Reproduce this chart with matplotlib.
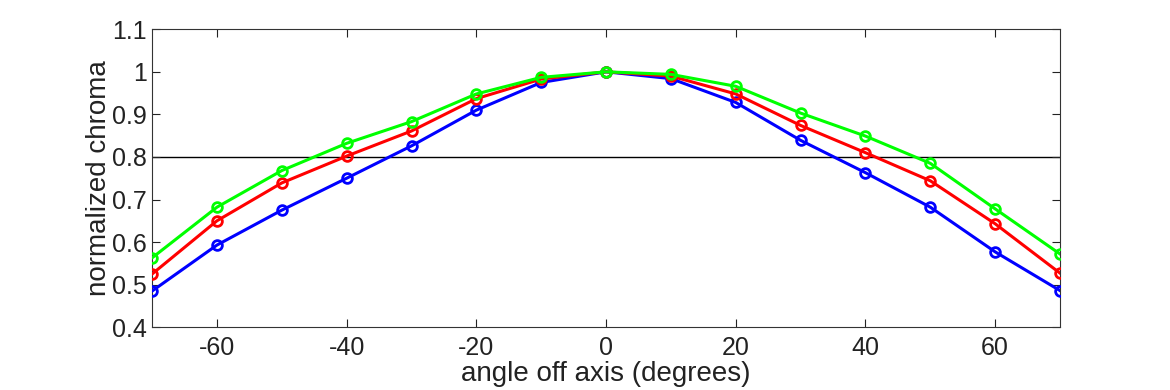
import numpy as np
import matplotlib.pyplot as plt

angles = [-70, -60, -50, -40, -30, -20, -10, 0, 10, 20, 30, 40, 50, 60, 70]
green = [0.563, 0.682, 0.768, 0.832, 0.883, 0.948, 0.987, 1.0, 0.994, 0.966, 0.903, 0.849, 0.785, 0.678, 0.572]
red = [0.525, 0.650, 0.739, 0.802, 0.861, 0.937, 0.983, 1.0, 0.990, 0.948, 0.874, 0.810, 0.744, 0.643, 0.527]
blue = [0.485, 0.593, 0.675, 0.750, 0.826, 0.910, 0.975, 1.0, 0.984, 0.928, 0.839, 0.763, 0.682, 0.577, 0.486]
threshold = 0.8

xticks = [-60, -40, -20, 0, 20, 40, 60]
yticks = [0.4, 0.5, 0.6, 0.7, 0.8, 0.9, 1.0, 1.1]
ytick_labels = ['0.4', '0.5', '0.6', '0.7', '0.8', '0.9', '1', '1.1']

plt.rcParams['font.family'] = ['Liberation Sans', 'DejaVu Sans']
plt.rcParams['axes.unicode_minus'] = False

fig = plt.figure(figsize=(11.7, 3.9), dpi=100)
ax = fig.add_axes([0.13, 0.161, 0.776, 0.764])

ax.axhline(threshold, color='black', linewidth=1.0, zorder=1)
for vals, col in [(blue, '#0000ff'), (red, '#ff0000'), (green, '#00ff00')]:
    ax.plot(angles, vals, color=col, linewidth=2.2, marker='o', markersize=7,
            markerfacecolor='none', markeredgewidth=2.0, zorder=3)

ax.set_xlim(-70, 70)
ax.set_ylim(0.4, 1.1)
ax.set_xticks(xticks)
ax.set_yticks(yticks)
ax.set_yticklabels(ytick_labels)
ax.tick_params(direction='in', top=True, right=True, labelsize=18,
               length=6, width=0.8, colors='#222222')
ax.tick_params(axis='x', pad=6)
ax.tick_params(axis='y', pad=4)
for s in ax.spines.values():
    s.set_linewidth(0.8)
    s.set_color('#333333')

ax.set_xlabel('angle off axis (degrees)', fontsize=20, color='#222222', labelpad=1)
ax.set_ylabel('normalized chroma', fontsize=20, color='#222222', labelpad=0)

fig.savefig('out.png', dpi=100)
